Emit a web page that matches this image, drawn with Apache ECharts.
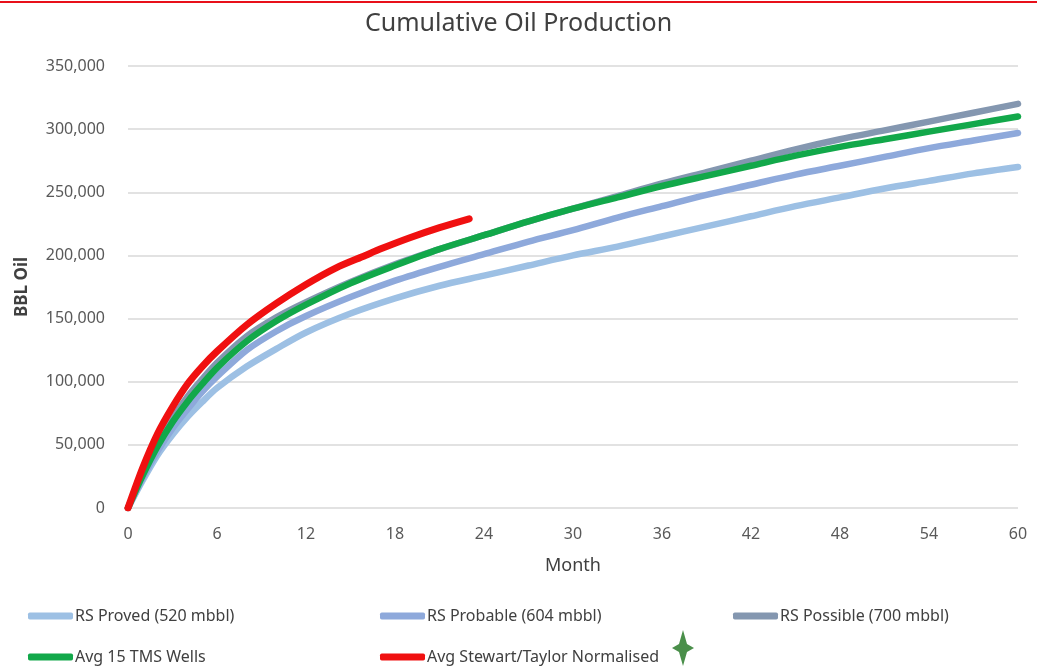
<!DOCTYPE html>
<html>
<head>
<meta charset="utf-8">
<script src="https://cdn.jsdelivr.net/npm/echarts@6/dist/echarts.min.js"></script>
<style>
html,body{margin:0;padding:0;background:#fff;}
#chart{width:1037px;height:666px;}
</style>
</head>
<body>
<div id="chart"></div>
<script>
// ---- data ----
const seriesNames = ["RS Proved (520 mbbl)", "RS Probable (604 mbbl)", "RS Possible (700 mbbl)", "Avg 15 TMS Wells", "Avg Stewart/Taylor Normalised"];
const months   = [0,1,2,3,4,5,6,8,10,12,15,18,21,24,27,30,33,36,39,42,45,48,51,54,57,60];
const proved   = [0,22000,42000,58000,72000,84000,95000,112000,126000,139000,154000,166000,176000,184000,192000,200000,207000,215000,223000,231000,239000,246000,253000,259000,265000,270000];
const probable = [0,24000,45000,63000,78000,92000,104000,125000,140000,152000,167000,180000,191000,201000,211000,220000,230000,239000,248000,256000,264000,271000,278000,285000,291000,297000];
const possible = [0,27000,51000,71000,88000,102000,115000,136000,151000,163000,179000,193000,205000,216000,227000,237000,247000,257000,266000,275000,284000,292000,299000,306000,313000,320000];
const tmsWells = [0,26000,49000,68000,84000,98000,111000,132000,148000,161000,178000,192000,205000,216000,227000,237000,246000,255000,263000,271000,279000,286000,292000,298000,304000,310000];
const stMonths = [0,1,2,3,4,5,6,8,10,12,14,16,17,19,21,23];
const stewart  = [0,32000,59000,80000,98000,112000,124000,145000,162000,177000,190000,200000,205000,214000,222000,229000];
const xTicks = [0,6,12,18,24,30,36,42,48,54,60];
const yTicks = [0,50000,100000,150000,200000,250000,300000,350000];

const colors = ["#9dc0e4", "#8ea9db", "#8497b0", "#12a84a", "#f01010"];
const font = "'Noto Sans', 'Open Sans', sans-serif";

function pairs(xs, ys){ return xs.map((x,i)=>[x, ys[i]]); }
const allData = [pairs(months,proved), pairs(months,probable), pairs(months,possible), pairs(months,tmsWells), pairs(stMonths,stewart)];

const chart = echarts.init(document.getElementById('chart'));
const legendCommon = {
  orient: 'horizontal', itemWidth: 45, itemHeight: 7, icon: 'roundRect', padding: 0,
  textStyle: {fontFamily: font, fontSize: 16, color: '#404040', padding: [0,0,0,-3]}
};
chart.setOption({
  animation: false,
  backgroundColor: '#fff',
  title: {
    text: 'Cumulative Oil Production', left: 'center', top: 6,
    textStyle: {fontFamily: font, fontSize: 25, fontWeight: 'normal', color: '#404040'}
  },
  grid: {left: 128, right: 19, top: 66, bottom: 158},
  legend: [
    Object.assign({}, legendCommon, {data:[seriesNames[0]], left: 28, top: 608}),
    Object.assign({}, legendCommon, {data:[seriesNames[1]], left: 380, top: 608}),
    Object.assign({}, legendCommon, {data:[seriesNames[2]], left: 733, top: 608}),
    Object.assign({}, legendCommon, {data:[seriesNames[3]], left: 28, top: 649}),
    Object.assign({}, legendCommon, {data:[seriesNames[4]], left: 380, top: 649})
  ],
  xAxis: {
    type: 'value', min: xTicks[0], max: xTicks[xTicks.length-1], interval: 6,
    name: 'Month', nameLocation: 'middle', nameGap: 49,
    nameTextStyle: {fontFamily: font, fontSize: 18, color: '#404040'},
    axisLine: {show: false}, axisTick: {show: false},
    axisLabel: {fontFamily: font, fontSize: 16, color: '#595959', margin: 18},
    splitLine: {show: false}
  },
  yAxis: {
    type: 'value', min: yTicks[0], max: yTicks[yTicks.length-1], interval: 50000,
    name: 'BBL Oil', nameLocation: 'middle', nameGap: 97, nameRotate: 90,
    nameTextStyle: {fontFamily: font, fontSize: 17, fontWeight: 'bold', color: '#404040'},
    axisLine: {show: false}, axisTick: {show: false},
    axisLabel: {fontFamily: font, fontSize: 16, color: '#595959', margin: 23,
      formatter: v => v.toLocaleString('en-US')},
    splitLine: {lineStyle: {color: '#d9d9d9', width: 1.5}}
  },
  series: allData.map((d,i)=>({
    name: seriesNames[i], type: 'line', data: d, smooth: 0.3,
    showSymbol: false, symbol: 'none',
    itemStyle: {color: colors[i]},
    lineStyle: {color: colors[i], width: i===4 ? 7 : 6.5, cap: 'round', join: 'round'},
    z: 2 + i
  })),
  graphic: [
    {type: 'rect', left: 0, top: 1, shape: {width: 1037, height: 2}, style: {fill: '#e8101a'}, silent: true},
    {type: 'polygon', silent: true,
      shape: {points: [[683,630],[687,644],[694,648],[687,652],[683,666],[679,652],[672,648],[679,644]]},
      style: {fill: '#4a8f4a'}}
  ]
});
</script>
</body>
</html>
